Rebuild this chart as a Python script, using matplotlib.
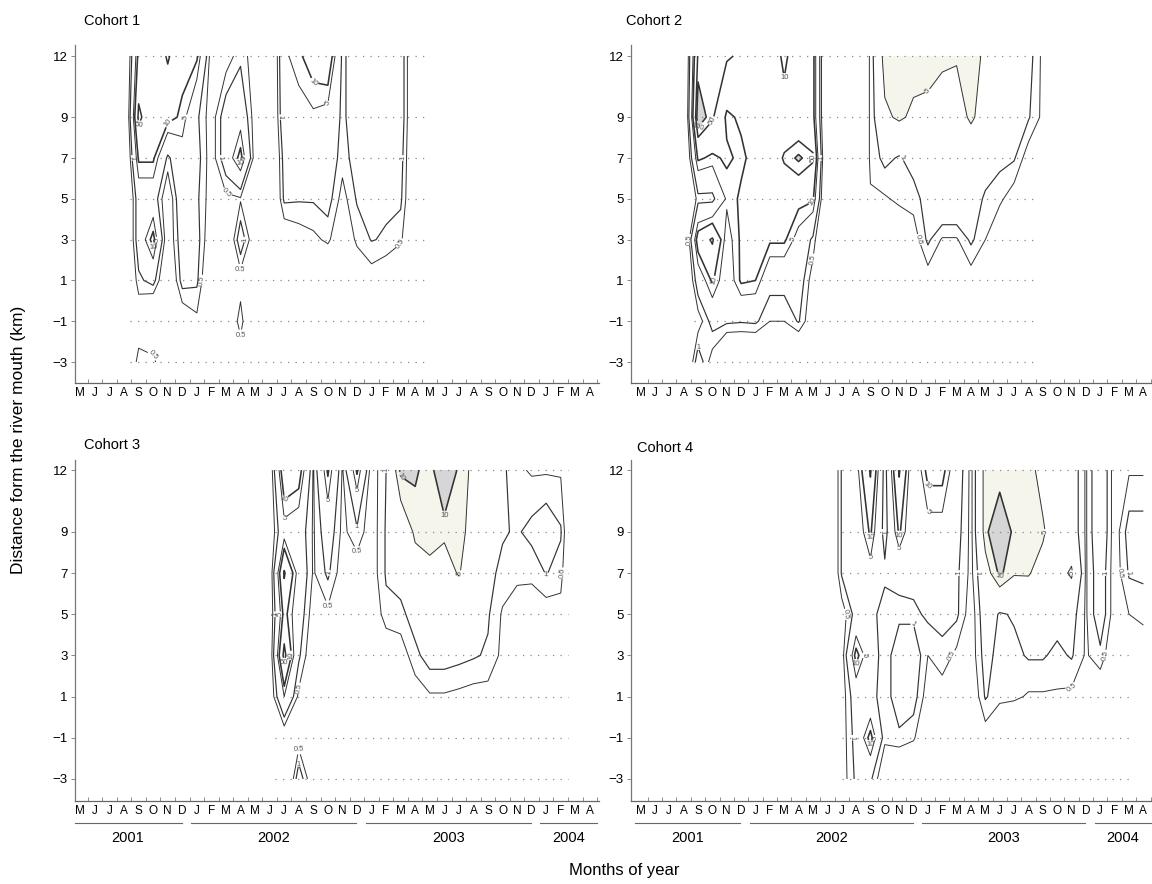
import numpy as np
import matplotlib.pyplot as plt
from matplotlib import font_manager

# month axis runs from May 2001 (index 0) to April 2004 (index 35)
months = list("MJJASONDJFMAMJJASONDJFMAMJJASONDJFMA")
years = ["2001", "2002", "2003", "2004"]
year_first = [0, 8, 20, 32]
year_last = [7, 19, 31, 35]

# sampling stations, distance from the river mouth (km), top to bottom
stations = [12, 9, 7, 5, 3, 1, -1, -3]
levels = [0.5, 1, 5, 10, 50, 100]

# density per month: each inner list is one month, values at the stations above
cohort1_start = 3
cohort1 = [
    [0, 0, 0, 0, 0, 0, 0, 0],
    [15, 70, 12, 2, 2, 0.8, 0.2, 0.8],
    [15, 15, 12, 2, 15, 1.5, 0, 0.8],
    [60, 15, 0.8, 0.2, 0.2, 0.1, 0, 0],
    [15, 8, 3, 3, 2, 1.5, 0.2, 0],
    [12, 1.2, 1.5, 1.2, 1.5, 1.2, 0.4, 0],
    [0.3, 0.3, 0.3, 0.3, 0.2, 0.1, 0, 0],
    [0.3, 2, 2, 0.4, 0.1, 0.1, 0.1, 0],
    [0.8, 3, 15, 0.45, 2, 0.3, 0.8, 0.2],
    [0.3, 0.3, 0.3, 0.1, 0.2, 0, 0, 0],
    [0, 0, 0, 0, 0, 0, 0, 0],
    [4, 3, 1.5, 1.2, 0.2, 0, 0, 0],
    [8, 3, 2, 1.1, 0.3, 0, 0, 0],
    [20, 4, 2, 1.1, 0.4, 0, 0, 0],
    [30, 3, 2, 1.5, 0.6, 0.1, 0, 0],
    [0.8, 0.8, 0.7, 0.35, 0.2, 0, 0, 0],
    [2, 2, 1.5, 1.1, 0.6, 0.2, 0, 0],
    [2, 2, 2, 1.5, 1.05, 0.3, 0, 0],
    [2, 2, 1.5, 1.2, 0.9, 0.2, 0, 0],
    [2, 2, 1.5, 1.2, 0.6, 0.1, 0, 0],
    [0.1, 0.1, 0.1, 0.1, 0.1, 0, 0, 0],
]

cohort2_start = 3
cohort2 = [
    [0, 0, 0, 0, 0, 0, 0, 0],
    [60, 200, 12, 0.7, 20, 2, 0.3, 2],
    [60, 60, 8, 0.7, 60, 12, 1.5, 0.3],
    [60, 8, 12, 6, 3, 2, 1.2, 0],
    [40, 12, 8, 12, 12, 12, 1.1, 0],
    [30, 15, 15, 12, 12, 10, 1.2, 0],
    [20, 15, 15, 15, 12, 1.5, 0.5, 0],
    [8, 15, 60, 15, 12, 1.5, 0.5, 0],
    [20, 15, 120, 15, 3, 2, 1.1, 0],
    [15, 15, 60, 12, 0.8, 0.3, 0.2, 0],
    [0, 0, 0, 0, 0, 0, 0, 0],
    [0, 0, 0, 0, 0, 0, 0, 0],
    [0, 0, 0, 0, 0, 0, 0, 0],
    [0.6, 0.6, 0.6, 0.45, 0.1, 0, 0, 0],
    [8, 4, 1.3, 0.45, 0.2, 0, 0, 0],
    [8, 6, 0.9, 0.6, 0.2, 0, 0, 0],
    [8, 4, 1.5, 0.7, 0.3, 0, 0, 0],
    [10, 3, 2, 1.5, 1.2, 0.3, 0, 0],
    [6, 3, 2, 4, 0.45, 0.2, 0, 0],
    [5.5, 3, 2, 4, 0.45, 0.2, 0, 0],
    [8, 6, 2, 1.5, 1.2, 0.3, 0, 0],
    [4, 3, 1.5, 0.9, 0.5, 0.2, 0, 0],
    [3, 2, 1.3, 0.6, 0.2, 0, 0, 0],
    [2, 1.5, 1.1, 0.3, 0.1, 0, 0, 0],
    [1.5, 1.1, 0.3, 0.1, 0, 0, 0, 0],
    [0.4, 0.4, 0.1, 0, 0, 0, 0, 0],
]

cohort3_start = 13
cohort3 = [
    [0.2, 0.2, 0.2, 0.2, 0.2, 0.2, 0, 0],
    [30, 3, 60, 15, 80, 5, 0.2, 0],
    [20, 2, 3, 2, 1.2, 0.4, 0.3, 2],
    [0.45, 0.45, 0.45, 0.3, 0.2, 0.1, 0.1, 0.2],
    [12, 2, 1.2, 0.4, 0.2, 0.1, 0, 0],
    [0.45, 0.4, 0.3, 0.2, 0.1, 0.1, 0, 0],
    [12, 0.8, 0.3, 0.2, 0.1, 0, 0, 0],
    [0.3, 0.3, 0.3, 0.2, 0.1, 0, 0, 0],
    [1, 1.1, 1.1, 0.8, 0.2, 0.1, 0, 0],
    [12, 2, 1.5, 0.8, 0.3, 0.1, 0, 0],
    [12, 6, 3, 1.5, 0.8, 0.3, 0, 0],
    [6, 8, 3.5, 1.5, 1.5, 0.45, 0, 0],
    [40, 6, 3, 1.5, 1.5, 0.45, 0, 0],
    [8, 6, 5.5, 1.5, 1.3, 0.4, 0, 0],
    [4, 4, 2, 1.5, 1.1, 0.35, 0, 0],
    [1.5, 1.5, 1.3, 1.1, 0.9, 0.35, 0, 0],
    [1.2, 1.1, 0.8, 0.45, 0.4, 0.2, 0, 0],
    [0.6, 0.9, 0.55, 0.4, 0.3, 0.1, 0, 0],
    [0.45, 1.3, 0.6, 0.3, 0.2, 0.1, 0, 0],
    [0.45, 2, 1.05, 0.3, 0.2, 0.1, 0, 0],
    [0.45, 1.1, 0.7, 0.35, 0.2, 0.1, 0, 0],
]

cohort4_start = 13
cohort4 = [
    [0, 0, 0, 0, 0, 0, 0, 0],
    [1.1, 1.1, 1.1, 0.3, 0.3, 0.3, 0.3, 0.3],
    [3, 2, 1.5, 1.5, 15, 2, 1.5, 1.2],
    [60, 12, 3, 1.5, 2, 1.5, 15, 1.2],
    [0.6, 0.6, 1.3, 0.6, 0.6, 0.6, 0.6, 0.2],
    [60, 12, 1.3, 0.8, 2, 2, 0.8, 0.1],
    [1.5, 1.5, 1.5, 0.8, 2, 1.5, 0.6, 0],
    [15, 3, 1.5, 1.2, 0.5, 0.3, 0.1, 0],
    [15, 3, 1.5, 1.3, 0.8, 0.3, 0.1, 0],
    [2, 1.5, 1.2, 1.2, 0.4, 0.2, 0, 0],
    [0.4, 0.4, 0.4, 0.3, 0.3, 0.2, 0.1, 0],
    [8, 8, 3, 2, 1.5, 1.1, 0.3, 0.1],
    [6, 25, 12, 0.9, 0.7, 0.6, 0.2, 0],
    [6, 8, 5.5, 1.1, 0.8, 0.6, 0.1, 0],
    [8, 8, 5.5, 1.5, 1.1, 0.45, 0.1, 0],
    [3, 6, 3, 1.5, 1.1, 0.45, 0, 0],
    [2, 2, 3, 1.5, 0.8, 0.45, 0, 0],
    [2, 2, 6, 1.5, 1.1, 0.4, 0, 0],
    [0.45, 0.45, 0.45, 0.45, 0.45, 0.2, 0, 0],
    [3, 3, 2, 2, 0.8, 0.2, 0, 0],
    [0.3, 0.3, 0.3, 0.3, 0.2, 0.1, 0, 0],
    [0.45, 1.5, 1.1, 0.5, 0.2, 0.1, 0, 0],
    [0.45, 1.5, 1.2, 0.6, 0.3, 0.1, 0, 0],
]

cohorts = [(cohort1_start, cohort1), (cohort2_start, cohort2),
           (cohort3_start, cohort3), (cohort4_start, cohort4)]
sampled = [(3.4, 24.0), (3.7, 27.6), (13.4, 33.5), (14.0, 34.0)]
shade_level = [None, 100, 10, 10]
shade_from = [0, 0, 21, 23]
tint_from = [99, 16, 20, 23]


def pick_font(names):
    have = {f.name for f in font_manager.fontManager.ttflist}
    for n in names:
        if n in have:
            return n
    return "DejaVu Sans"


main_font = pick_font(["Liberation Sans", "Arial", "DejaVu Sans"])
narrow_font = pick_font(["Liberation Sans Narrow", "Liberation Sans", "DejaVu Sans"])
plt.rcParams["font.family"] = main_font
plt.rcParams["contour.negative_linestyle"] = "solid"

fig = plt.figure(figsize=(11.52, 8.84), dpi=100)
boxes = [
    [74.6 / 1152, 0.5667, 524 / 1152, 0.3824],
    [630.5 / 1152, 0.5667, 521.5 / 1152, 0.3824],
    [74.6 / 1152, 0.0939, 524 / 1152, 0.3857],
    [630.5 / 1152, 0.0939, 521.5 / 1152, 0.3857],
]
xlims = [(-0.4, 35.6), (-0.7, 35.6), (-0.4, 35.6), (-0.7, 35.6)]
ylims = [(-4.03, 12.54), (-4.03, 12.54), (-4.07, 12.49), (-4.07, 12.49)]
titles = ["Cohort 1", "Cohort 2", "Cohort 3", "Cohort 4"]
title_pos = [(84, 21), (626, 21), (84, 445), (637, 448)]

mx = np.arange(36)
log_levels = np.log10(levels)
widths = [0.7, 0.85, 0.7, 1.15, 1.1, 1.1]

for i, (start, cols) in enumerate(cohorts):
    ax = fig.add_axes(boxes[i])
    grid = np.zeros((len(stations), 36))
    grid[:, start:start + len(cols)] = np.array(cols, dtype=float).T
    z = np.log10(np.maximum(grid, 0.05))

    # faint tint where density reaches 5
    zt = z.copy()
    zt[:, :tint_from[i]] = -2
    if zt.max() >= np.log10(5):
        ax.contourf(mx, stations, zt, levels=[np.log10(5), 9], colors=["#f6f5ec"])

    # grey fill for the densest patches
    if shade_level[i] is not None:
        zs = z.copy()
        zs[:, :shade_from[i]] = -2
        ax.contourf(mx, stations, zs, levels=[np.log10(shade_level[i]), 9],
                    colors=["#d6d6d6"])

    # sampling stations
    s0, s1 = sampled[i]
    ax.hlines(stations, s0, s1, colors="#8a8a8a", linestyles=(0, (1, 5)),
              linewidth=0.9)

    cs = ax.contour(mx, stations, z, levels=log_levels, colors="#333333",
                    linewidths=widths, negative_linestyles="solid")
    lbl = ax.clabel(cs, fmt=lambda v: f"{10 ** v:g}", fontsize=5.5,
                    inline=True, inline_spacing=1)
    for t in lbl:
        t.set_color("#555555")

    ax.set_xlim(*xlims[i])
    ax.set_ylim(*ylims[i])
    for side in ["top", "right"]:
        ax.spines[side].set_visible(False)
    ax.spines["left"].set_color("#777777")
    ax.spines["bottom"].set_color("#666666")
    ax.spines["left"].set_linewidth(0.9)
    ax.spines["bottom"].set_linewidth(0.9)

    ax.set_yticks(stations)
    ax.set_yticklabels([str(s).replace("-", "\u2212") for s in stations],
                       fontsize=9.5, family=narrow_font)
    ax.tick_params(axis="y", direction="out", length=3, width=0.6,
                   color="#777777", pad=2)

    ax.set_xticks(mx)
    ax.set_xticklabels(months, fontsize=8.5)
    ax.set_xticks(np.arange(0.5, 35.6, 1), minor=True)
    ax.tick_params(axis="x", which="major", length=0, pad=3)
    ax.tick_params(axis="x", which="minor", direction="in", length=3,
                   width=0.6, color="#777777")

    fig.text(title_pos[i][0] / 1152, 1 - title_pos[i][1] / 884, titles[i],
             fontsize=10.5, va="center", ha="left")

    if i >= 2:
        tr = ax.get_xaxis_transform()
        for yr, a, b in zip(years, year_first, year_last):
            right = b - 0.05 if b < 35 else 35.5
            ax.plot([a - 0.4, right], [-0.064, -0.064], color="#666666",
                    lw=0.8, transform=tr, clip_on=False)
            ax.text((a - 0.4 + right) / 2, -0.108, yr, transform=tr,
                    ha="center", va="center", fontsize=10.5)

fig.text(19 / 1152, 1 - 440 / 884, "Distance form the river mouth (km)",
         rotation=90, ha="center", va="center", fontsize=12.5)
fig.text(624 / 1152, 1 - 871 / 884, "Months of year", ha="center",
         va="center", fontsize=12)

fig.savefig("out.png", dpi=100, facecolor="white")
